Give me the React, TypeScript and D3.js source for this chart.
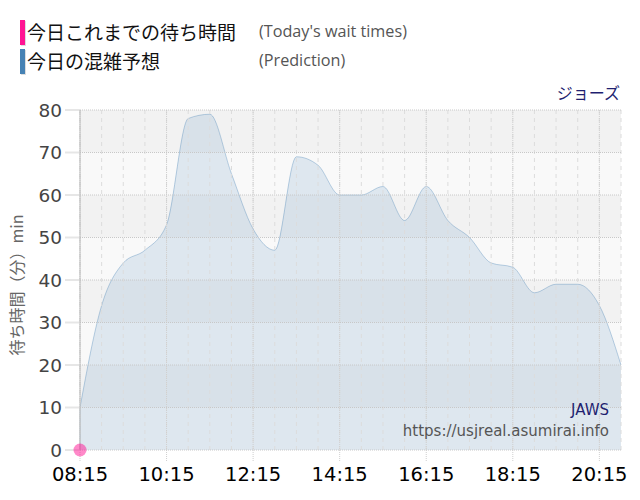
import { useEffect, useMemo } from 'react'
import * as d3 from 'd3'

// wait-time prediction, every 30 minutes
const times = [
  '08:15', '08:45', '09:15', '09:45', '10:15', '10:45', '11:15', '11:45', '12:15',
  '12:45', '13:15', '13:45', '14:15', '14:45', '15:15', '15:45', '16:15', '16:45',
  '17:15', '17:45', '18:15', '18:45', '19:15', '19:45', '20:15', '20:45',
]
const prediction = [
  10, 34, 44, 47, 53, 78, 79, 65, 52,
  47, 69, 67, 60, 60, 62, 54, 62, 54,
  50, 44, 43, 37, 39, 39, 34, 20,
]
// today's actual wait times so far
const actualTimes = ['08:15']
const actualValues = [0]

const xTickLabels = ['08:15', '10:15', '12:15', '14:15', '16:15', '18:15', '20:15']
const yTicks = [0, 10, 20, 30, 40, 50, 60, 70, 80]

const legendItems = [
  { label: '今日これまでの待ち時間', sub: "(Today's wait times)", color: '#ff1493' },
  { label: '今日の混雑予想', sub: '(Prediction)', color: '#4682b4' },
]

const toMin = (t: string) => {
  const [h, m] = t.split(':').map(Number)
  return h * 60 + m
}

export default function App() {
  const width = 640
  const height = 500
  const margin = { top: 110, right: 19, bottom: 50, left: 80 }

  useEffect(() => {
    document.body.style.margin = '0'
  }, [])

  const x = useMemo(() => d3.scaleLinear()
    .domain([toMin('08:15'), toMin('20:45')])
    .range([margin.left, width - margin.right]), [])

  const y = useMemo(() => d3.scaleLinear()
    .domain([0, 80])
    .range([height - margin.bottom, margin.top]), [])

  const points = times.map((t, i) => ({ t: toMin(t), v: prediction[i] }))

  const area = d3.area<{ t: number; v: number }>()
    .x(d => x(d.t))
    .y0(y(0))
    .y1(d => y(d.v))
    .curve(d3.curveMonotoneX)

  const line = d3.line<{ t: number; v: number }>()
    .x(d => x(d.t))
    .y(d => y(d.v))
    .curve(d3.curveMonotoneX)

  const minorTicks = d3.range(toMin('08:15'), toMin('20:45') + 1, 30)
  const bands = d3.range(0, 80, 10)
  const [x0, x1] = x.range()

  return (
    <svg width={width} height={height} style={{ display: 'block' }}>
      {/* legend */}
      {legendItems.map((d, i) => (
        <g key={d.label} transform={`translate(0,${i * 29})`}>
          <rect x={21} y={21} width={5} height={25} fill="#bbb" opacity={0.5} />
          <rect x={20} y={20} width={5} height={25} fill={d.color} />
          <text x={27} y={40} fontSize={19} fontFamily="'Noto Sans CJK JP', sans-serif" fill="#111">{d.label}</text>
          <text x={259} y={37} fontSize={16.2} fontFamily="'Open Sans', 'DejaVu Sans', sans-serif" fill="#555">{d.sub}</text>
        </g>
      ))}

      <text x={620} y={99} textAnchor="end" fontSize={16} fontFamily="'Noto Sans CJK JP', sans-serif" fill="#1f1f70">ジョーズ</text>

      {/* plot bands */}
      {bands.map(b => (
        <rect key={b} x={x0} width={x1 - x0} y={y(b + 10)} height={y(b) - y(b + 10)}
          fill={(b / 10) % 2 === 1 ? '#f2f2f2' : '#f9f9f9'} />
      ))}

      {/* area */}
      <path d={area(points) || ''} fill="#4682b4" fillOpacity={0.15} />
      <path d={line(points) || ''} fill="none" stroke="#4682b4" strokeOpacity={0.35} strokeWidth={1} />
      <line x1={x0} x2={x0} y1={y(0)} y2={y(prediction[0])} stroke="#4682b4" strokeOpacity={0.35} />

      {/* minor vertical grid */}
      {minorTicks.map(t => (
        <line key={t} x1={x(t)} x2={x(t)} y1={y(80)} y2={y(0)}
          stroke="#dcdcdc" strokeDasharray="4,4" strokeWidth={1} />
      ))}
      {/* major vertical grid */}
      {xTickLabels.map(t => (
        <line key={t} x1={x(toMin(t))} x2={x(toMin(t))} y1={y(80)} y2={y(0) + 12}
          stroke="#cfcfcf" strokeDasharray="1,1" strokeWidth={1} />
      ))}
      {/* horizontal grid */}
      {yTicks.map(v => (
        <g key={v}>
          <line x1={x0} x2={x1} y1={y(v)} y2={y(v)} stroke="#c8c8c8" strokeDasharray="1,1" />
          <line x1={65} x2={x0} y1={y(v)} y2={y(v)} stroke="#e6e6e6" strokeWidth={2} />
          <text x={62} y={y(v) + 6.5} textAnchor="end" fontSize={18.5} fontFamily="'DejaVu Sans', sans-serif" fill="#444">{v}</text>
        </g>
      ))}
      <line x1={x0} x2={x0} y1={y(80)} y2={y(0)} stroke="#bbb" />

      {/* x axis labels */}
      {xTickLabels.map(t => (
        <text key={t} x={x(toMin(t))} y={481} textAnchor="middle" fontSize={19.5} fontFamily="'DejaVu Sans', sans-serif" fill="#000">{t}</text>
      ))}

      {/* y axis title */}
      <text transform={`translate(23,${(y(0) + y(80)) / 2 + 5}) rotate(-90)`} textAnchor="middle" fontSize={16}
        fontFamily="'Noto Sans CJK JP', sans-serif" fill="#666">待ち時間（分）min</text>

      {/* actual wait times */}
      {actualTimes.map((t, i) => (
        <circle key={t} cx={x(toMin(t))} cy={y(actualValues[i])} r={6.5} fill="#ff1493" fillOpacity={0.5} />
      ))}

      {/* credits */}
      <text x={609} y={415} textAnchor="end" fontSize={15} fontFamily="'DejaVu Sans', sans-serif" fill="#1f1f70">JAWS</text>
      <text x={609} y={436} textAnchor="end" fontSize={15} fontFamily="'DejaVu Sans', sans-serif" fill="#555">https://usjreal.asumirai.info</text>
    </svg>
  )
}
